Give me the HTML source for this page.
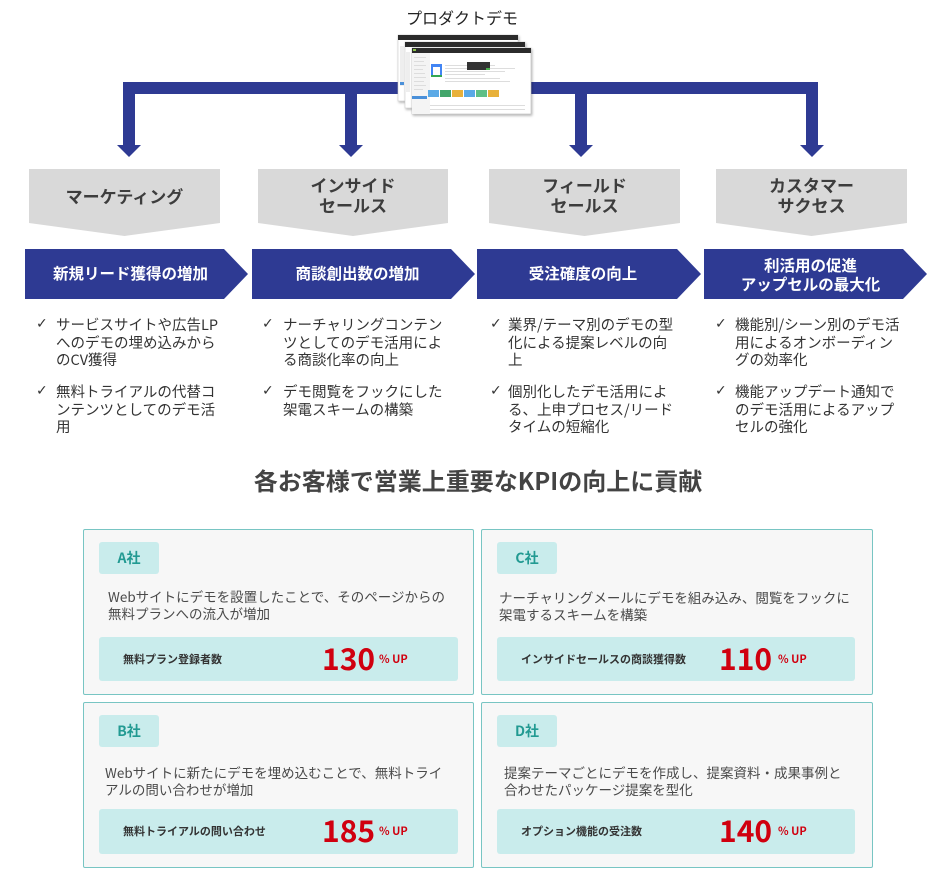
<!DOCTYPE html>
<html><head><meta charset="utf-8">
<style>
html,body{margin:0;padding:0;background:#fff;}
body{width:950px;height:881px;position:relative;overflow:hidden;font-family:"Liberation Sans","Noto Sans CJK JP",sans-serif;}
.a{position:absolute;white-space:nowrap;}
.jp{font-family:"Noto Sans CJK JP","Liberation Sans",sans-serif;}
.gl{position:absolute;text-align:center;font-weight:bold;font-size:17px;line-height:20px;color:#3d3d3d;font-family:"Noto Sans CJK JP",sans-serif;}
.bl{position:absolute;text-align:center;font-weight:bold;font-size:15.5px;line-height:19px;color:#fff;font-family:"Noto Sans CJK JP",sans-serif;}
.li{position:absolute;font-size:14.5px;line-height:17.5px;color:#333;white-space:nowrap;font-family:"Noto Sans CJK JP",sans-serif;}
.ck{position:absolute;font-size:14px;line-height:17.5px;color:#333;font-family:"DejaVu Sans",sans-serif;}
.card{position:absolute;background:#f7f7f7;border:1.5px solid #78c5c3;border-radius:2px;box-sizing:border-box;}
.badge{position:absolute;left:15px;top:12px;width:60px;height:32px;background:#c9ecec;border-radius:3px;text-align:center;line-height:32px;font-weight:bold;font-size:14px;color:#229a92;font-family:"Noto Sans CJK JP",sans-serif;}
.desc{position:absolute;font-size:13.5px;line-height:17px;color:#4a4a4a;white-space:nowrap;font-family:"Noto Sans CJK JP",sans-serif;}
.bar{position:absolute;left:15px;width:359px;height:44px;background:#c9ecec;border-radius:3px;}
.lab{position:absolute;left:24px;top:0;line-height:44px;font-size:11px;font-weight:bold;color:#333;white-space:nowrap;font-family:"Noto Sans CJK JP",sans-serif;}
.num{position:absolute;left:223px;top:-2px;line-height:44px;font-size:30px;font-weight:bold;color:#d0000f;font-family:"Noto Sans CJK JP","Liberation Sans",sans-serif;}
.up{position:absolute;left:280px;top:0;line-height:44px;font-size:11px;font-weight:bold;color:#d0000f;white-space:nowrap;font-family:"Noto Sans CJK JP",sans-serif;}
</style></head>
<body>
<svg width="950" height="881" style="position:absolute;left:0;top:0">
  <defs>
    <filter id="sh" x="-10%" y="-10%" width="130%" height="140%">
      <feDropShadow dx="1" dy="1.5" stdDeviation="1.2" flood-color="#000" flood-opacity="0.3"/>
    </filter>
  </defs>
  <!-- connector -->
  <g fill="#2e3a93">
    <rect x="123" y="82" width="695" height="12"/>
    <rect x="123" y="82" width="12" height="64"/>
    <rect x="345" y="82" width="12" height="64"/>
    <rect x="575" y="82" width="12" height="64"/>
    <rect x="806" y="82" width="12" height="64"/>
    <polygon points="117,145 141,145 129,157"/>
    <polygon points="339,145 363,145 351,157"/>
    <polygon points="569,145 593,145 581,157"/>
    <polygon points="800,145 824,145 812,157"/>
  </g>
  <!-- product demo screenshots -->
  <g>
    <rect x="398" y="35" width="120" height="66" fill="#fff" stroke="#ccc" stroke-width="0.6" filter="url(#sh)"/>
    <rect x="398" y="35" width="120" height="5" fill="#2b2b2b"/>
    <rect x="405" y="42" width="120" height="66" fill="#fff" stroke="#ccc" stroke-width="0.6" filter="url(#sh)"/>
    <rect x="405" y="42" width="120" height="5" fill="#2b2b2b"/>
    <rect x="400" y="46" width="4" height="40" fill="#eee"/>
    <rect x="400" y="82" width="4" height="3" fill="#4a90d9"/>
    <rect x="406" y="52" width="4" height="40" fill="#eee"/>
    <rect x="412" y="48" width="119" height="66" fill="#fff" stroke="#bbb" stroke-width="0.6" filter="url(#sh)"/>
    <rect x="412" y="48" width="119" height="5" fill="#2b2b2b"/>
    <rect x="413" y="49" width="3" height="2" fill="#8bc34a"/>
    <rect x="412" y="53" width="18" height="61" fill="#f4f4f4"/>
    <rect x="412" y="96" width="15" height="3" fill="#4a90d9"/>
    <g fill="#ddd">
      <rect x="414" y="57" width="12" height="1"/><rect x="414" y="61" width="10" height="1"/>
      <rect x="414" y="65" width="12" height="1"/><rect x="414" y="69" width="9" height="1"/>
      <rect x="414" y="73" width="11" height="1"/><rect x="414" y="77" width="12" height="1"/>
      <rect x="414" y="81" width="10" height="1"/><rect x="414" y="85" width="12" height="1"/>
      <rect x="414" y="89" width="9" height="1"/>
      <rect x="445" y="65" width="50" height="1"/><rect x="445" y="68" width="70" height="1"/>
      <rect x="445" y="71" width="60" height="1"/><rect x="445" y="74" width="40" height="1"/>
      <rect x="445" y="78" width="55" height="1"/><rect x="445" y="81" width="65" height="1"/>
      <rect x="430" y="105" width="95" height="1"/><rect x="430" y="109" width="95" height="1"/>
    </g>
    <rect x="431" y="64" width="11" height="13" fill="#4285f4"/>
    <rect x="433" y="67" width="7" height="8" fill="#fff"/>
    <rect x="431" y="75" width="11" height="2" fill="#34a853"/>
    <rect x="467" y="62" width="23" height="8" fill="#333"/>
    <rect x="486" y="68" width="4" height="2" fill="#4caf50"/>
    <rect x="428" y="90" width="11" height="7" fill="#5aa9e6"/>
    <rect x="440" y="90" width="11" height="7" fill="#43a66b"/>
    <rect x="452" y="90" width="11" height="7" fill="#e8b13a"/>
    <rect x="464" y="90" width="11" height="7" fill="#5aa9e6"/>
    <rect x="476" y="90" width="11" height="7" fill="#5fbf86"/>
    <rect x="488" y="90" width="11" height="7" fill="#e8b13a"/>
  </g>
  <!-- gray pentagons -->
  <g fill="#d9d9d9">
    <polygon points="29,169 220,169 220,223 124.5,236 29,223"/>
    <polygon points="258,169 448,169 448,223 353,236 258,223"/>
    <polygon points="489,169 680,169 680,223 584.5,236 489,223"/>
    <polygon points="716,169 907,169 907,223 811.5,236 716,223"/>
  </g>
  <!-- blue arrows -->
  <g fill="#2e3a93">
    <polygon points="25,249 224,249 248,274 224,299 25,299"/>
    <polygon points="252,249 451,249 475,274 451,299 252,299"/>
    <polygon points="477,249 677,249 701,274 677,299 477,299"/>
    <polygon points="704,249 903,249 927,274 903,299 704,299"/>
  </g>
</svg>

<div class="a jp" style="left:362px;top:6px;width:200px;text-align:center;font-size:16px;line-height:22px;color:#222;">プロダクトデモ</div>

<div class="gl" style="left:29px;top:186px;width:191px;">マーケティング</div>
<div class="gl" style="left:258px;top:175px;width:190px;">インサイド<br>セールス</div>
<div class="gl" style="left:489px;top:175px;width:191px;">フィールド<br>セールス</div>
<div class="gl" style="left:716px;top:175px;width:191px;">カスタマー<br>サクセス</div>

<div class="bl" style="left:31px;top:264px;width:199px;">新規リード獲得の増加</div>
<div class="bl" style="left:258px;top:264px;width:199px;">商談創出数の増加</div>
<div class="bl" style="left:483px;top:264px;width:200px;">受注確度の向上</div>
<div class="bl" style="left:711px;top:256px;width:199px;">利活用の促進<br>アップセルの最大化</div>

<!-- lists -->
<div class="ck" style="left:36px;top:316px;">✓</div>
<div class="li" style="left:56px;top:316px;">サービスサイトや広告LP<br>へのデモの埋め込みから<br>のCV獲得</div>
<div class="ck" style="left:36px;top:383px;">✓</div>
<div class="li" style="left:56px;top:383px;">無料トライアルの代替コ<br>ンテンツとしてのデモ活<br>用</div>

<div class="ck" style="left:262px;top:316px;">✓</div>
<div class="li" style="left:283px;top:316px;">ナーチャリングコンテン<br>ツとしてのデモ活用によ<br>る商談化率の向上</div>
<div class="ck" style="left:262px;top:383px;">✓</div>
<div class="li" style="left:283px;top:383px;">デモ閲覧をフックにした<br>架電スキームの構築</div>

<div class="ck" style="left:490px;top:316px;">✓</div>
<div class="li" style="left:508px;top:316px;">業界/テーマ別のデモの型<br>化による提案レベルの向<br>上</div>
<div class="ck" style="left:490px;top:383px;">✓</div>
<div class="li" style="left:508px;top:383px;">個別化したデモ活用によ<br>る、上申プロセス/リード<br>タイムの短縮化</div>

<div class="ck" style="left:715px;top:316px;">✓</div>
<div class="li" style="left:735px;top:316px;">機能別/シーン別のデモ活<br>用によるオンボーディン<br>グの効率化</div>
<div class="ck" style="left:715px;top:383px;">✓</div>
<div class="li" style="left:735px;top:383px;">機能アップデート通知で<br>のデモ活用によるアップ<br>セルの強化</div>

<div class="a jp" style="left:178px;top:464px;width:600px;text-align:center;font-size:24px;line-height:32px;font-weight:bold;color:#444;">各お客様で営業上重要なKPIの向上に貢献</div>

<!-- Card A -->
<div class="card" style="left:83px;top:529px;width:391px;height:166px;">
  <div class="badge">A社</div>
  <div class="desc" style="left:24px;top:58px;">Webサイトにデモを設置したことで、そのページからの<br>無料プランへの流入が増加</div>
  <div class="bar" style="top:107px;">
    <div class="lab">無料プラン登録者数</div>
    <div class="num">130</div>
    <div class="up">% UP</div>
  </div>
</div>

<!-- Card C -->
<div class="card" style="left:481px;top:529px;width:392px;height:166px;">
  <div class="badge">C社</div>
  <div class="desc" style="left:17px;top:59px;">ナーチャリングメールにデモを組み込み、閲覧をフックに<br>架電するスキームを構築</div>
  <div class="bar" style="top:107px;width:358px;">
    <div class="lab">インサイドセールスの商談獲得数</div>
    <div class="num" style="left:222px;">110</div>
    <div class="up" style="left:281px;">% UP</div>
  </div>
</div>

<!-- Card B -->
<div class="card" style="left:83px;top:702px;width:391px;height:166px;">
  <div class="badge">B社</div>
  <div class="desc" style="left:21px;top:61px;">Webサイトに新たにデモを埋め込むことで、無料トライ<br>アルの問い合わせが増加</div>
  <div class="bar" style="top:106px;height:45px;">
    <div class="lab">無料トライアルの問い合わせ</div>
    <div class="num">185</div>
    <div class="up">% UP</div>
  </div>
</div>

<!-- Card D -->
<div class="card" style="left:481px;top:702px;width:392px;height:166px;">
  <div class="badge">D社</div>
  <div class="desc" style="left:22px;top:61px;">提案テーマごとにデモを作成し、提案資料・成果事例と<br>合わせたパッケージ提案を型化</div>
  <div class="bar" style="top:106px;height:45px;width:358px;">
    <div class="lab">オプション機能の受注数</div>
    <div class="num" style="left:222px;">140</div>
    <div class="up" style="left:281px;">% UP</div>
  </div>
</div>

</body></html>
